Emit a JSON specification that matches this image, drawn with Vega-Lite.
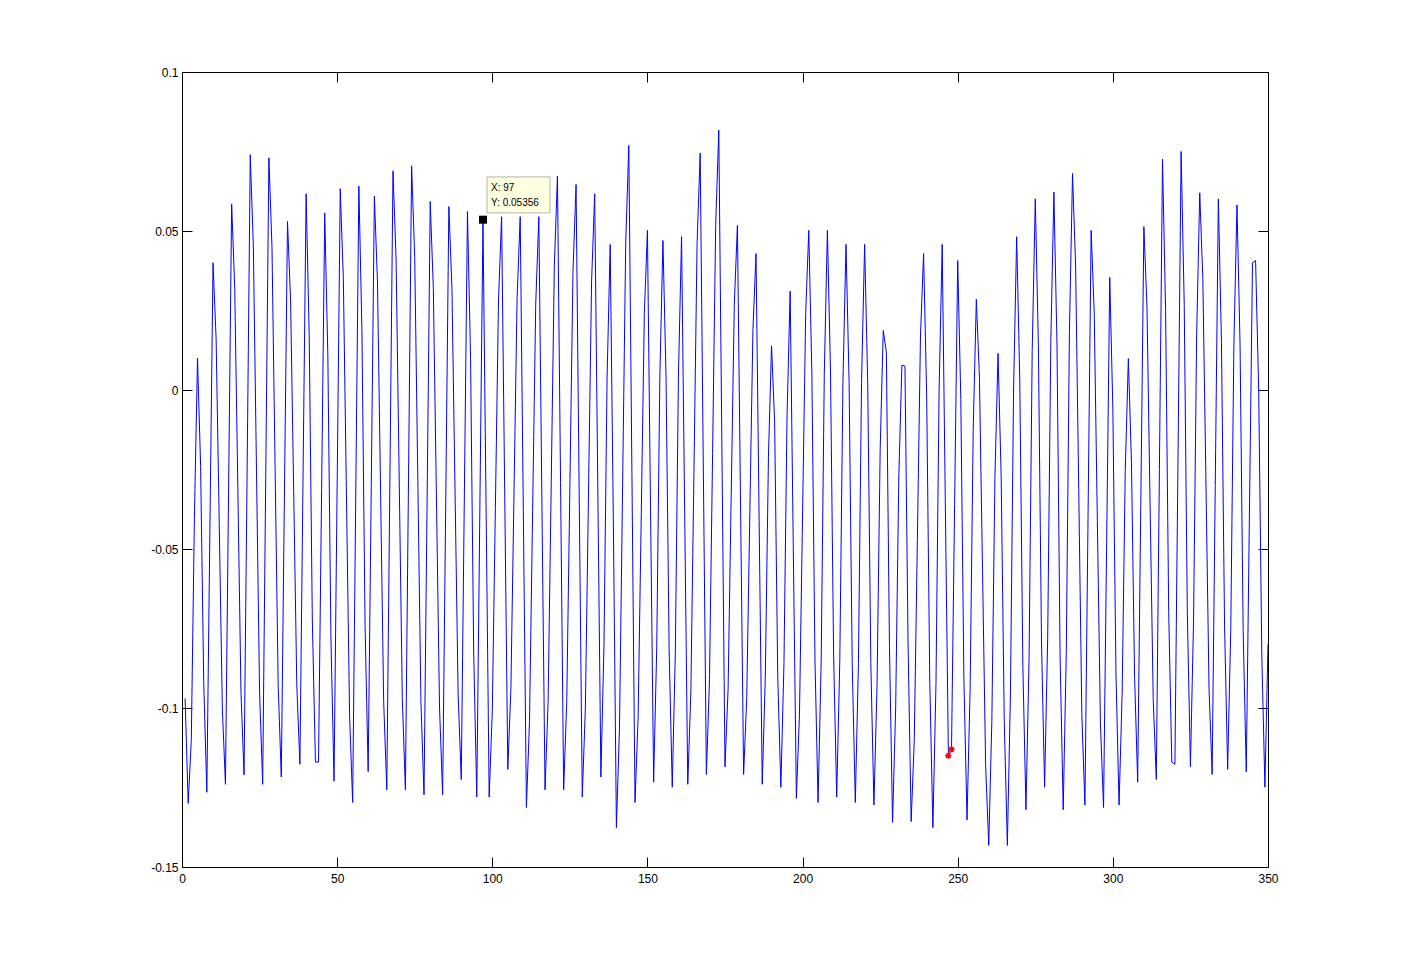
{
  "$schema": "https://vega.github.io/schema/vega-lite/v6.json",
  "width": 1086,
  "height": 795,
  "autosize": {"type": "none"},
  "padding": {"left": 182, "top": 72, "right": 133, "bottom": 107},
  "background": "white",
  "config": {
    "view": {"stroke": "#000", "strokeWidth": 1},
    "axis": {"labelFont": "Liberation Sans", "labelFontSize": 12, "labelColor": "#000", "tickColor": "#000", "grid": false, "domain": false, "title": null, "labelFlush": false, "labelOverlap": false}
  },
  "datasets": {
    "signal": [
      {"x":1,"y":-0.097},{"x":2,"y":-0.130},{"x":3,"y":-0.110},{"x":4,"y":-0.040},{"x":5,"y":0.010},{"x":6,"y":-0.024},{"x":7,"y":-0.092},{"x":8,"y":-0.1265},{"x":9,"y":-0.043},{"x":10,"y":0.040},
      {"x":11,"y":0.016},{"x":12,"y":-0.042},{"x":13,"y":-0.100},{"x":14,"y":-0.124},{"x":15,"y":-0.033},{"x":16,"y":0.0585},{"x":17,"y":0.032},{"x":18,"y":-0.031},{"x":19,"y":-0.095},{"x":20,"y":-0.121},
      {"x":21,"y":-0.024},{"x":22,"y":0.074},{"x":23,"y":0.045},{"x":24,"y":-0.025},{"x":25,"y":-0.095},{"x":26,"y":-0.124},{"x":27,"y":-0.026},{"x":28,"y":0.073},{"x":29,"y":0.045},{"x":30,"y":-0.024},
      {"x":31,"y":-0.093},{"x":32,"y":-0.1217},{"x":33,"y":-0.034},{"x":34,"y":0.053},{"x":35,"y":0.028},{"x":36,"y":-0.032},{"x":37,"y":-0.093},{"x":38,"y":-0.1177},{"x":39,"y":-0.028},{"x":40,"y":0.0617},
      {"x":41,"y":0.017},{"x":42,"y":-0.072},{"x":43,"y":-0.117},{"x":44,"y":-0.117},{"x":45,"y":-0.031},{"x":46,"y":0.0557},{"x":47,"y":0.011},{"x":48,"y":-0.078},{"x":49,"y":-0.123},{"x":50,"y":-0.030},
      {"x":51,"y":0.0633},{"x":52,"y":0.035},{"x":53,"y":-0.033},{"x":54,"y":-0.102},{"x":55,"y":-0.1297},{"x":56,"y":-0.033},{"x":57,"y":0.0641},{"x":58,"y":0.018},{"x":59,"y":-0.074},{"x":60,"y":-0.120},
      {"x":61,"y":-0.030},{"x":62,"y":0.061},{"x":63,"y":0.034},{"x":64,"y":-0.032},{"x":65,"y":-0.098},{"x":66,"y":-0.1257},{"x":67,"y":-0.028},{"x":68,"y":0.0689},{"x":69,"y":0.041},{"x":70,"y":-0.028},
      {"x":71,"y":-0.097},{"x":72,"y":-0.1257},{"x":73,"y":-0.028},{"x":74,"y":0.0705},{"x":75,"y":0.042},{"x":76,"y":-0.028},{"x":77,"y":-0.098},{"x":78,"y":-0.1273},{"x":79,"y":-0.034},{"x":80,"y":0.0593},
      {"x":81,"y":0.032},{"x":82,"y":-0.034},{"x":83,"y":-0.100},{"x":84,"y":-0.1273},{"x":85,"y":-0.035},{"x":86,"y":0.0577},{"x":87,"y":0.032},{"x":88,"y":-0.032},{"x":89,"y":-0.096},{"x":90,"y":-0.1225},
      {"x":91,"y":-0.033},{"x":92,"y":0.0561},{"x":93,"y":0.010},{"x":94,"y":-0.082},{"x":95,"y":-0.128},{"x":96,"y":-0.037},{"x":97,"y":0.05356},{"x":98,"y":-0.037},{"x":99,"y":-0.128},{"x":100,"y":-0.101},
      {"x":101,"y":-0.037},{"x":102,"y":0.028},{"x":103,"y":0.0545},{"x":104,"y":-0.032},{"x":105,"y":-0.1193},{"x":106,"y":-0.094},{"x":107,"y":-0.032},{"x":108,"y":0.029},{"x":109,"y":0.0545},{"x":110,"y":-0.038},
      {"x":111,"y":-0.1313},{"x":112,"y":-0.104},{"x":113,"y":-0.038},{"x":114,"y":0.027},{"x":115,"y":0.0545},{"x":116,"y":-0.036},{"x":117,"y":-0.1257},{"x":118,"y":-0.098},{"x":119,"y":-0.029},{"x":120,"y":0.039},
      {"x":121,"y":0.0673},{"x":122,"y":-0.029},{"x":123,"y":-0.1257},{"x":124,"y":-0.098},{"x":125,"y":-0.031},{"x":126,"y":0.037},{"x":127,"y":0.0646},{"x":128,"y":-0.032},{"x":129,"y":-0.128},{"x":130,"y":-0.100},
      {"x":131,"y":-0.033},{"x":132,"y":0.034},{"x":133,"y":0.0617},{"x":134,"y":-0.030},{"x":135,"y":-0.1217},{"x":136,"y":-0.080},{"x":137,"y":0.004},{"x":138,"y":0.0458},{"x":139,"y":-0.040},{"x":140,"y":-0.1376},
      {"x":141,"y":-0.106},{"x":142,"y":-0.030},{"x":143,"y":0.046},{"x":144,"y":0.0769},{"x":145,"y":-0.026},{"x":146,"y":-0.1297},{"x":147,"y":-0.103},{"x":148,"y":-0.040},{"x":149,"y":0.024},{"x":150,"y":0.0502},
      {"x":151,"y":-0.037},{"x":152,"y":-0.1233},{"x":153,"y":-0.081},{"x":154,"y":0.004},{"x":155,"y":0.047},{"x":156,"y":0.004},{"x":157,"y":-0.082},{"x":158,"y":-0.1249},{"x":159,"y":-0.082},{"x":160,"y":0.005},
      {"x":161,"y":0.0482},{"x":162,"y":-0.038},{"x":163,"y":-0.124},{"x":164,"y":-0.095},{"x":165,"y":-0.025},{"x":166,"y":0.046},{"x":167,"y":0.0745},{"x":168,"y":-0.023},{"x":169,"y":-0.1209},{"x":170,"y":-0.091},
      {"x":171,"y":-0.020},{"x":172,"y":0.052},{"x":173,"y":0.0817},{"x":174,"y":-0.018},{"x":175,"y":-0.1185},{"x":176,"y":-0.094},{"x":177,"y":-0.033},{"x":178,"y":0.027},{"x":179,"y":0.0518},{"x":180,"y":-0.035},
      {"x":181,"y":-0.1209},{"x":182,"y":-0.097},{"x":183,"y":-0.039},{"x":184,"y":0.019},{"x":185,"y":0.0429},{"x":186,"y":-0.041},{"x":187,"y":-0.124},{"x":188,"y":-0.090},{"x":189,"y":-0.021},{"x":190,"y":0.0139},
      {"x":191,"y":-0.010},{"x":192,"y":-0.090},{"x":193,"y":-0.1249},{"x":194,"y":-0.086},{"x":195,"y":-0.008},{"x":196,"y":0.0311},{"x":197,"y":-0.049},{"x":198,"y":-0.1284},{"x":199,"y":-0.102},{"x":200,"y":-0.039},
      {"x":201,"y":0.024},{"x":202,"y":0.0502},{"x":203,"y":0.005},{"x":204,"y":-0.085},{"x":205,"y":-0.1297},{"x":206,"y":-0.085},{"x":207,"y":0.005},{"x":208,"y":0.0502},{"x":209,"y":0.006},{"x":210,"y":-0.083},
      {"x":211,"y":-0.128},{"x":212,"y":-0.085},{"x":213,"y":0.002},{"x":214,"y":0.0458},{"x":215,"y":0.002},{"x":216,"y":-0.086},{"x":217,"y":-0.1297},{"x":218,"y":-0.086},{"x":219,"y":0.002},{"x":220,"y":0.0458},
      {"x":221,"y":0.002},{"x":222,"y":-0.086},{"x":223,"y":-0.1305},{"x":224,"y":-0.093},{"x":225,"y":-0.019},{"x":226,"y":0.0187},{"x":227,"y":0.012},{"x":228,"y":-0.080},{"x":229,"y":-0.136},{"x":230,"y":-0.100},
      {"x":231,"y":-0.028},{"x":232,"y":0.0078},{"x":233,"y":0.0075},{"x":234,"y":-0.080},{"x":235,"y":-0.1357},{"x":236,"y":-0.110},{"x":237,"y":-0.047},{"x":238,"y":0.017},{"x":239,"y":0.0429},{"x":240,"y":-0.002},
      {"x":241,"y":-0.092},{"x":242,"y":-0.1376},{"x":243,"y":-0.092},{"x":244,"y":0.000},{"x":245,"y":0.0458},{"x":246,"y":-0.035},{"x":247,"y":-0.115},{"x":248,"y":-0.113},{"x":249,"y":-0.036},{"x":250,"y":0.0407},
      {"x":251,"y":-0.003},{"x":252,"y":-0.091},{"x":253,"y":-0.1352},{"x":254,"y":-0.094},{"x":255,"y":-0.012},{"x":256,"y":0.0285},{"x":257,"y":0.004},{"x":258,"y":-0.057},{"x":259,"y":-0.118},{"x":260,"y":-0.1432},
      {"x":261,"y":-0.104},{"x":262,"y":-0.027},{"x":263,"y":0.0115},{"x":264,"y":-0.027},{"x":265,"y":-0.104},{"x":266,"y":-0.1432},{"x":267,"y":-0.095},{"x":268,"y":0.000},{"x":269,"y":0.0482},{"x":270,"y":0.003},
      {"x":271,"y":-0.087},{"x":272,"y":-0.132},{"x":273,"y":-0.084},{"x":274,"y":0.012},{"x":275,"y":0.0601},{"x":276,"y":0.014},{"x":277,"y":-0.079},{"x":278,"y":-0.1249},{"x":279,"y":-0.078},{"x":280,"y":0.015},
      {"x":281,"y":0.0622},{"x":282,"y":0.014},{"x":283,"y":-0.084},{"x":284,"y":-0.132},{"x":285,"y":-0.082},{"x":286,"y":0.018},{"x":287,"y":0.0681},{"x":288,"y":0.039},{"x":289,"y":-0.031},{"x":290,"y":-0.102},
      {"x":291,"y":-0.1305},{"x":292,"y":-0.040},{"x":293,"y":0.0502},{"x":294,"y":0.024},{"x":295,"y":-0.041},{"x":296,"y":-0.105},{"x":297,"y":-0.1313},{"x":298,"y":-0.048},{"x":299,"y":0.0354},{"x":300,"y":-0.006},
      {"x":301,"y":-0.089},{"x":302,"y":-0.1305},{"x":303,"y":-0.095},{"x":304,"y":-0.025},{"x":305,"y":0.0099},{"x":306,"y":-0.023},{"x":307,"y":-0.090},{"x":308,"y":-0.1233},{"x":309,"y":-0.036},{"x":310,"y":0.0514},
      {"x":311,"y":0.026},{"x":312,"y":-0.036},{"x":313,"y":-0.097},{"x":314,"y":-0.1225},{"x":315,"y":-0.025},{"x":316,"y":0.0726},{"x":317,"y":0.025},{"x":318,"y":-0.070},{"x":319,"y":-0.117},{"x":320,"y":-0.1177},
      {"x":321,"y":-0.021},{"x":322,"y":0.075},{"x":323,"y":0.027},{"x":324,"y":-0.070},{"x":325,"y":-0.1185},{"x":326,"y":-0.073},{"x":327,"y":0.017},{"x":328,"y":0.062},{"x":329,"y":0.035},{"x":330,"y":-0.029},
      {"x":331,"y":-0.094},{"x":332,"y":-0.1209},{"x":333,"y":-0.030},{"x":334,"y":0.0601},{"x":335,"y":0.015},{"x":336,"y":-0.074},{"x":337,"y":-0.1193},{"x":338,"y":-0.075},{"x":339,"y":0.014},{"x":340,"y":0.0582},
      {"x":341,"y":0.014},{"x":342,"y":-0.076},{"x":343,"y":-0.1201},{"x":344,"y":-0.040},{"x":345,"y":0.040},{"x":346,"y":0.0407},{"x":347,"y":0.000},{"x":348,"y":-0.083},{"x":349,"y":-0.1249},{"x":350,"y":-0.080}
    ],
    "stars": [{"x": 247, "y": -0.115}, {"x": 248, "y": -0.113}],
    "tip": [{"x": 97, "y": 0.05356}],
    "tipbox": [{"x1": 98.3, "x2": 118.6, "y1": 0.0557, "y2": 0.067}],
    "tiptext": [{"x": 99.6, "y": 0.0636, "label": "X: 97"}, {"x": 99.6, "y": 0.0588, "label": "Y: 0.05356"}]
  },
  "layer": [
    {
      "data": {"name": "signal"},
      "mark": {"type": "line", "color": "#0000FF", "strokeWidth": 1, "clip": true},
      "encoding": {
        "x": {"field": "x", "type": "quantitative", "scale": {"domain": [0, 350], "nice": false, "zero": false},
          "axis": {"orient": "bottom", "values": [0, 50, 100, 150, 200, 250, 300, 350], "format": "d", "ticks": false, "labelPadding": 6}},
        "y": {"field": "y", "type": "quantitative", "scale": {"domain": [-0.15, 0.1], "nice": false, "zero": false},
          "axis": {"orient": "left", "values": [-0.15, -0.1, -0.05, 0, 0.05, 0.1], "labelExpr": "'' + datum.value", "ticks": false, "labelPadding": 4}}
      }
    },
    {
      "data": {"name": "tipbox"},
      "mark": {"type": "rect", "fill": "#FFFFE1", "stroke": "#B4B4A0", "strokeWidth": 1},
      "encoding": {
        "x": {"field": "x1", "type": "quantitative", "axis": {"orient": "bottom", "values": [0, 50, 100, 150, 200, 250, 300, 350], "labels": false, "tickSize": 10, "offset": -10}},
        "x2": {"field": "x2"},
        "y": {"field": "y1", "type": "quantitative", "axis": {"orient": "left", "values": [-0.15, -0.1, -0.05, 0, 0.05, 0.1], "labels": false, "tickSize": 10, "offset": -10}},
        "y2": {"field": "y2"}
      }
    },
    {
      "data": {"name": "tiptext"},
      "mark": {"type": "text", "align": "left", "baseline": "middle", "font": "Liberation Sans", "fontSize": 10, "color": "#000"},
      "encoding": {
        "x": {"field": "x", "type": "quantitative", "axis": {"orient": "top", "values": [0, 50, 100, 150, 200, 250, 300, 350], "labels": false, "tickSize": 10, "offset": -10}},
        "y": {"field": "y", "type": "quantitative", "axis": {"orient": "right", "values": [-0.15, -0.1, -0.05, 0, 0.05, 0.1], "labels": false, "tickSize": 10, "offset": -10}},
        "text": {"field": "label"}
      }
    },
    {
      "data": {"name": "tip"},
      "mark": {"type": "point", "shape": "square", "size": 64, "filled": true, "color": "#000", "opacity": 1},
      "encoding": {
        "x": {"field": "x", "type": "quantitative", "axis": null},
        "y": {"field": "y", "type": "quantitative", "axis": null}
      }
    },
    {
      "data": {"name": "stars"},
      "mark": {"type": "point", "shape": "M-1,0L1,0M0,-1L0,1M-0.7,-0.7L0.7,0.7M-0.7,0.7L0.7,-0.7", "size": 40, "filled": false, "stroke": "#FF0000", "strokeWidth": 1.5, "opacity": 1},
      "encoding": {
        "x": {"field": "x", "type": "quantitative", "axis": null},
        "y": {"field": "y", "type": "quantitative", "axis": null}
      }
    }
  ],
  "resolve": {"axis": {"x": "independent", "y": "independent"}}
}
